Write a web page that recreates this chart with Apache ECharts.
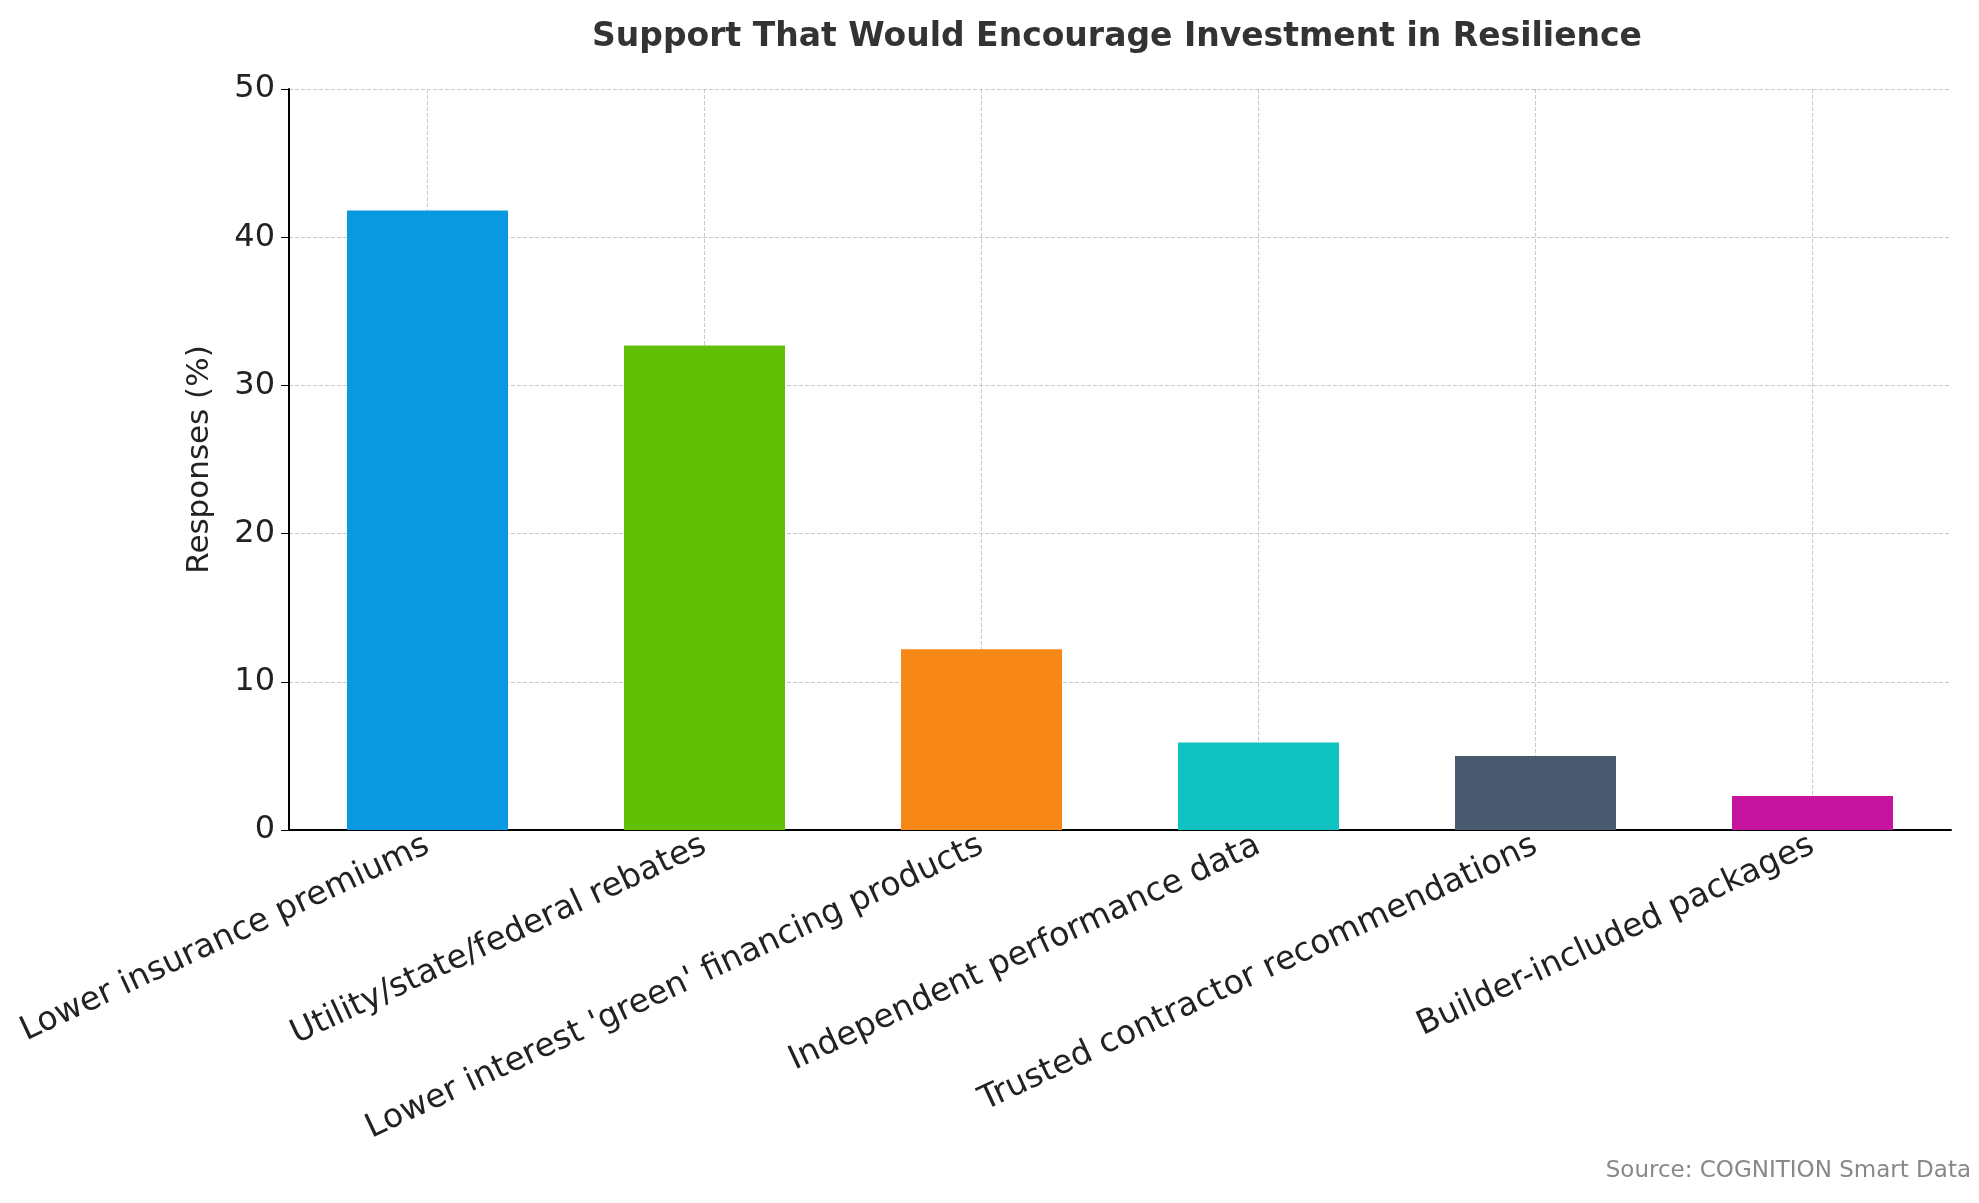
<!DOCTYPE html>
<html>
<head>
<meta charset="utf-8">
<script src="https://cdn.jsdelivr.net/npm/echarts@6/dist/echarts.min.js"></script>
<style>html,body{margin:0;padding:0;background:#fff}#main{width:1979px;height:1203px}</style>
</head>
<body>
<div id="main"></div>
<script>
var categories = ["Lower insurance premiums", "Utility/state/federal rebates", "Lower interest 'green' financing products",
    "Independent performance data", "Trusted contractor recommendations", "Builder-included packages"];
var values = [41.8, 32.7, 12.2, 5.9, 5.0, 2.3];
var colors = ["#0899e0", "#62bf06", "#f78817", "#10c2c2", "#4a5a6e", "#c6149f"];

var chart = echarts.init(document.getElementById('main'));
var font = "DejaVu Sans";
chart.setOption({
    animation: false,
    title: {
        text: "Support That Would Encourage Investment in Resilience",
        left: 1112, top: 16, textAlign: 'center',
        textStyle: { fontFamily: font, fontSize: 33, fontWeight: 'bold', color: '#333' }
    },
    graphic: [{
        type: 'text', right: 8, top: 1160,
        style: { text: "Source: COGNITION Smart Data", font: "23px DejaVu Sans", fill: '#888' }
    }],
    grid: { left: 289, right: 28, top: 89, bottom: 373 },
    xAxis: {
        type: 'category',
        data: categories,
        axisLine: { lineStyle: { color: '#000', width: 2 } },
        axisTick: { alignWithLabel: true, length: 8, lineStyle: { color: '#000' } },
        splitLine: { show: true, alignWithLabel: true, lineStyle: { type: 'dashed', color: '#c8c8c8' } },
        axisLabel: { rotate: 25, interval: 0, fontFamily: font, fontSize: 33, color: '#222', margin: 14 }
    },
    yAxis: {
        type: 'value', min: 0, max: 50, interval: 10,
        name: "Responses (%)", nameLocation: 'middle', nameGap: 74,
        nameTextStyle: { fontFamily: font, fontSize: 31, color: '#222' },
        axisLine: { show: true, lineStyle: { color: '#000', width: 2 } },
        axisTick: { show: true, length: 8, lineStyle: { color: '#000' } },
        splitLine: { lineStyle: { type: 'dashed', color: '#c8c8c8' } },
        axisLabel: { fontFamily: font, fontSize: 32, color: '#222', margin: 14 }
    },
    series: [{
        type: 'bar',
        barWidth: 161,
        data: values.map(function (v, i) { return { value: v, itemStyle: { color: colors[i] } }; }),
        z: 1
    }]
});
</script>
</body>
</html>
